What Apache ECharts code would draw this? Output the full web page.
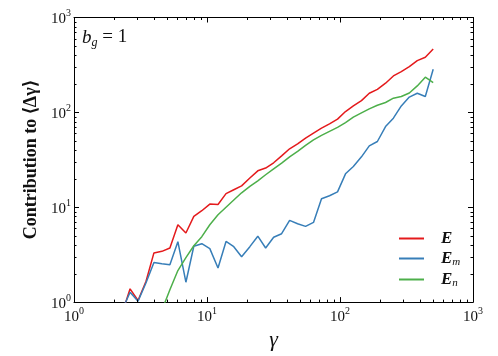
<!DOCTYPE html>
<html>
<head>
<meta charset="utf-8">
<title></title>
<style type="text/css">
html, body { margin: 0; padding: 0; background: #fff; }
#main { width: 498px; height: 356px; }
</style>
</head>
<body>
<div id="main"></div>
<script src="https://cdn.jsdelivr.net/npm/echarts@6/dist/echarts.min.js"></script>
<script type="text/javascript">
// gamma bins (x)
var gamma = [2.30, 2.64, 3.03, 3.48, 3.99, 4.58, 5.26, 6.04, 6.94, 7.96,
  9.14, 10.5, 12.1, 13.9, 15.9, 18.2, 21.0, 24.1, 27.6, 31.7,
  36.4, 41.8, 48.0, 55.1, 63.2, 72.6, 83.4, 95.8, 110, 126,
  145, 166, 191, 220, 252, 289, 332, 381, 438, 502];
// contribution of E
var contribE = [0.76, 1.38, 1.04, 1.66, 3.30, 3.43, 3.72, 6.54, 5.35, 8.0,
  9.19, 10.8, 10.7, 13.9, 15.3, 16.8, 20.3, 24.2, 25.9, 29.4,
  34.8, 41.3, 46.6, 53.5, 60.4, 68.2, 75.7, 84.8, 102, 117,
  133, 159, 175, 203, 242, 269, 303, 351, 381, 466];
// contribution of E_m
var contribEm = [0.82, 1.27, 1.02, 1.60, 2.62, 2.54, 2.48, 4.33, 1.62, 3.88,
  4.13, 3.66, 2.29, 4.36, 3.84, 3.01, 3.84, 4.95, 3.72, 4.83,
  5.26, 7.26, 6.70, 6.28, 6.92, 12.3, 13.2, 14.5, 22.5, 26.9,
  34.0, 44.4, 49.3, 70.9, 86.9, 117, 145, 159, 147, 285];
// contribution of E_n (starts later)
var contribEn = [null, null, null, null, null, 0.82, 1.35, 2.15, 2.94, 3.93,
  4.89, 6.54, 8.34, 10.0, 11.9, 14.2, 16.6, 19.0, 22.0, 25.4,
  29.2, 34.0, 38.8, 44.9, 51.4, 57.3, 63.1, 69.5, 78.1, 89.0,
  98.8, 109, 119, 127, 141, 147, 160, 190, 235, 206];
var seriesNames = ['E', 'E_m', 'E_n'];
var seriesColors = ['#e41a1c', '#377eb8', '#4daf4a'];
var axisMin = 1, axisMax = 1000;
var minorVals = [2, 3, 4, 5, 6, 7, 8, 9, 20, 30, 40, 50, 60, 70, 80, 90,
  200, 300, 400, 500, 600, 700, 800, 900];

var serif = 'Liberation Serif';

function pairs(ys) {
  var out = [];
  for (var i = 0; i < gamma.length; i++) {
    if (ys[i] != null) out.push([gamma[i], ys[i]]);
  }
  return out;
}

function powLabel(v) {
  var e = Math.round(Math.log(v) / Math.LN10);
  return '{b|10}{s|' + e + '}';
}
var powRich = {
  b: { fontFamily: serif, fontSize: 15, color: '#111', lineHeight: 18, verticalAlign: 'bottom' },
  s: { fontFamily: serif, fontSize: 10, color: '#111', lineHeight: 18, verticalAlign: 'top' }
};

// minor ticks on all four sides, placed through the axis scales
var minorData = [];
for (var k = 0; k < minorVals.length; k++) {
  minorData.push([minorVals[k], 1, 0]);
  minorData.push([1, minorVals[k], 1]);
}
function drawMinor(params, api) {
  var cs = params.coordSys;
  var p = api.coord([api.value(0), api.value(1)]);
  var st = { stroke: '#000', lineWidth: 1 };
  var len = 2.5;
  if (api.value(2) === 0) {
    var x = Math.round(p[0]) + 0.5;
    return { type: 'group', children: [
      { type: 'line', shape: { x1: x, y1: cs.y + cs.height, x2: x, y2: cs.y + cs.height - len }, style: st },
      { type: 'line', shape: { x1: x, y1: cs.y, x2: x, y2: cs.y + len }, style: st }
    ] };
  }
  var y = Math.round(p[1]) + 0.5;
  return { type: 'group', children: [
    { type: 'line', shape: { x1: cs.x, y1: y, x2: cs.x + len, y2: y }, style: st },
    { type: 'line', shape: { x1: cs.x + cs.width, y1: y, x2: cs.x + cs.width - len, y2: y }, style: st }
  ] };
}

function logAxis(pos, showLabel) {
  return {
    type: 'log', logBase: 10, min: axisMin, max: axisMax, splitNumber: 3,
    position: pos,
    axisLine: { show: true, onZero: false, lineStyle: { color: '#000', width: 1 } },
    axisTick: { show: true, inside: true, length: 5, lineStyle: { color: '#000' } },
    splitLine: { show: false },
    axisLabel: { show: showLabel, formatter: powLabel, rich: powRich, margin: 4 }
  };
}

var chartDom = document.getElementById('main');
var myChart = echarts.init(chartDom);

var xMain = logAxis('bottom', true);
xMain.name = 'γ';
xMain.nameLocation = 'middle';
xMain.nameGap = 26;
xMain.nameTextStyle = { fontFamily: serif, fontStyle: 'italic', fontSize: 22, color: '#111' };

var yMain = logAxis('left', true);
yMain.name = 'Contribution to ⟨Δγ⟩';
yMain.nameLocation = 'middle';
yMain.nameGap = 34;
yMain.nameTextStyle = { fontFamily: serif, fontWeight: 'bold', fontSize: 18, color: '#111' };
yMain.axisLabel.margin = 3;

var lineSeries = [contribE, contribEm, contribEn].map(function (ys, i) {
  return {
    name: seriesNames[i], type: 'line', data: pairs(ys),
    showSymbol: false, symbol: 'none', clip: true,
    lineStyle: { color: seriesColors[i], width: 1.5 },
    itemStyle: { color: seriesColors[i] },
    xAxisIndex: 0, yAxisIndex: 0, z: 3
  };
});

var option = {
  animation: false,
  backgroundColor: '#fff',
  grid: { left: 74, right: 25, top: 17.5, bottom: 53.5 },
  xAxis: [xMain, logAxis('top', false)],
  yAxis: [yMain, logAxis('right', false)],
  legend: {
    orient: 'vertical', left: 394, top: 225,
    icon: 'rect', itemWidth: 25, itemHeight: 2, itemGap: 3,
    data: seriesNames,
    formatter: function (n) {
      var parts = n.split('_');
      return '{e|' + parts[0] + '}' + (parts[1] ? '{sub|' + parts[1] + '}' : '');
    },
    textStyle: {
      rich: {
        e: { fontFamily: serif, fontWeight: 'bold', fontStyle: 'italic', fontSize: 17, color: '#111',
          lineHeight: 19, padding: [0, 0, 0, 12], verticalAlign: 'middle' },
        sub: { fontFamily: serif, fontStyle: 'italic', fontSize: 11, color: '#111',
          lineHeight: 19, verticalAlign: 'bottom' }
      }
    }
  },
  graphic: [{
    type: 'text', left: 82, top: 28,
    style: {
      text: '{i|b}{sub|g}{r| = 1}',
      rich: {
        i: { fontFamily: serif, fontStyle: 'italic', fontSize: 19, fill: '#111', lineHeight: 22, verticalAlign: 'middle' },
        sub: { fontFamily: serif, fontStyle: 'italic', fontSize: 12, fill: '#111', lineHeight: 22, verticalAlign: 'bottom' },
        r: { fontFamily: serif, fontSize: 19, fill: '#111', lineHeight: 22, verticalAlign: 'middle' }
      }
    }
  }],
  series: lineSeries.concat([{
    type: 'custom', silent: true, renderItem: drawMinor,
    data: minorData, encode: { x: 0, y: 1 }, z: 4
  }])
};

option && myChart.setOption(option);
</script>
</body>
</html>
